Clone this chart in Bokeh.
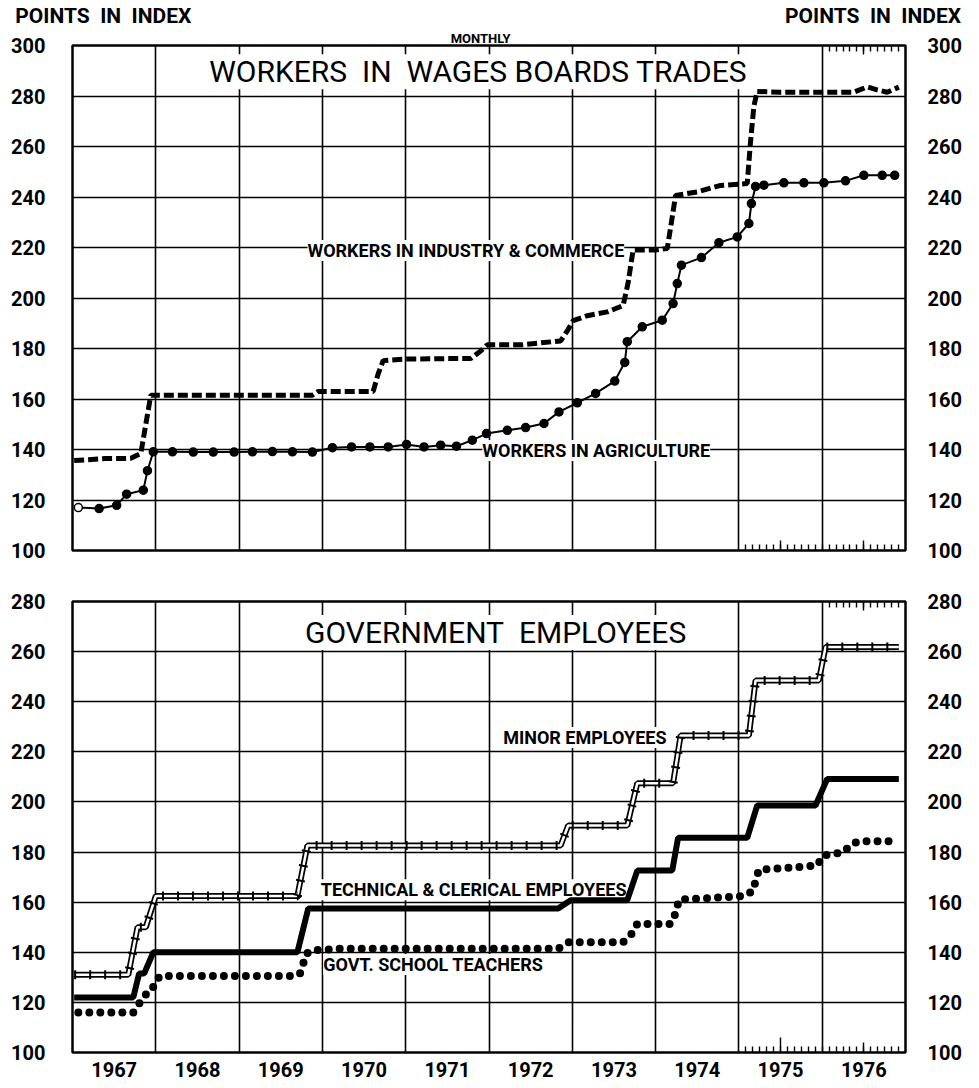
from bokeh.plotting import figure
from bokeh.layouts import column
from bokeh.models import Range1d, LinearAxis, FixedTicker, Grid, Label, CustomJSTickFormatter
from bokeh.embed import file_html
from bokeh.resources import INLINE

# ---------------- data ----------------
years = [1967, 1968, 1969, 1970, 1971, 1972, 1973, 1974, 1975, 1976]
top_yticks = [100, 120, 140, 160, 180, 200, 220, 240, 260, 280, 300]
bot_yticks = [100, 120, 140, 160, 180, 200, 220, 240, 260, 280]

# Workers in industry & commerce (dashed)
ind_t = [1967.02, 1967.4, 1967.70, 1967.82, 1967.88, 1967.94, 1968.5, 1969.0, 1969.5, 1969.88,
         1969.95, 1970.3, 1970.61, 1970.67, 1970.73, 1971.0, 1971.5, 1971.78, 1971.90, 1971.98,
         1972.4, 1972.86, 1972.94, 1973.01, 1973.18, 1973.42, 1973.61, 1973.67, 1973.73, 1974.0,
         1974.14, 1974.19, 1974.24, 1974.5, 1974.78, 1975.10, 1975.14, 1975.18, 1975.22, 1975.5,
         1976.0, 1976.38, 1976.54, 1976.65, 1976.78, 1976.92]
ind_v = [135.6, 136.4, 136.5, 138.4, 150.0, 161.5, 161.5, 161.5, 161.5, 161.5,
         163.0, 163.0, 163.0, 170.0, 175.2, 175.8, 176.0, 176.0, 179.0, 181.5,
         181.5, 183.0, 187.0, 191.0, 193.0, 194.5, 197.0, 206.0, 219.0, 219.0,
         219.6, 230.0, 240.6, 242.0, 244.6, 245.3, 262.0, 276.0, 281.8, 281.5,
         281.5, 281.5, 283.6, 282.5, 281.5, 283.5]

# Workers in agriculture (line with dots)
agri_t = [1967.07, 1967.32, 1967.53, 1967.65, 1967.85, 1967.90, 1967.97, 1968.20, 1968.45, 1968.69,
          1968.94, 1969.16, 1969.40, 1969.64, 1969.88, 1970.12, 1970.35, 1970.57, 1970.79, 1971.01,
          1971.22, 1971.42, 1971.61, 1971.80, 1971.97, 1972.22, 1972.44, 1972.66, 1972.84, 1973.06,
          1973.28, 1973.51, 1973.63, 1973.66, 1973.84, 1974.08, 1974.21, 1974.26, 1974.31, 1974.55,
          1974.76, 1974.98, 1975.12, 1975.15, 1975.20, 1975.30, 1975.54, 1975.78, 1976.02, 1976.28,
          1976.50, 1976.72, 1976.87]
agri_v = [117.0, 116.6, 117.9, 122.3, 123.9, 131.6, 139.1, 139.1, 139.0, 139.0,
          139.0, 139.1, 139.2, 139.1, 139.0, 140.7, 141.0, 141.0, 141.0, 142.0,
          141.0, 141.7, 141.3, 143.7, 146.3, 147.6, 148.7, 150.3, 154.9, 158.5,
          162.2, 167.1, 174.5, 182.7, 188.6, 191.2, 197.8, 205.7, 213.0, 216.0,
          221.9, 224.2, 229.5, 237.4, 244.2, 244.7, 245.6, 245.6, 245.6, 246.4,
          248.6, 248.6, 248.6]

# Government: minor employees
minor_t = [1967.02, 1967.67, 1967.78, 1967.88, 1968.0, 1969.70, 1969.82, 1972.86, 1972.95, 1973.66,
           1973.78, 1974.21, 1974.30, 1975.12, 1975.20, 1975.96, 1976.04, 1976.92]
minor_v = [131.0, 131.0, 150.0, 150.0, 162.5, 162.5, 182.6, 182.6, 190.6, 190.6,
           207.5, 207.5, 226.5, 226.5, 248.5, 248.5, 261.8, 261.8]

# Government: technical & clerical employees
tech_t = [1967.02, 1967.73, 1967.80, 1967.86, 1967.97, 1969.70, 1969.83, 1972.83, 1972.98, 1973.66,
          1973.78, 1974.20, 1974.27, 1975.10, 1975.22, 1975.92, 1976.06, 1976.92]
tech_v = [122.0, 122.0, 131.5, 131.5, 140.0, 140.0, 157.5, 157.5, 160.8, 160.8,
          172.6, 172.6, 185.7, 185.7, 198.6, 198.6, 209.2, 209.2]

# Government: school teachers
teach_t = [1967.07, 1967.73, 1967.80, 1967.86, 1967.95, 1967.99, 1968.05, 1969.65, 1969.73, 1969.77,
           1969.80, 1969.86, 1970.2, 1972.83, 1972.95, 1973.61, 1973.72, 1973.78, 1974.18, 1974.24,
           1974.28, 1975.05, 1975.17, 1975.20, 1975.24, 1975.94, 1976.01, 1976.25, 1976.36, 1976.45,
           1976.88]
teach_v = [116.0, 116.0, 119.5, 122.7, 124.5, 128.0, 130.5, 130.5, 131.4, 135.4,
           139.1, 140.7, 141.4, 141.4, 144.0, 144.0, 147.6, 151.3, 151.3, 155.6,
           161.0, 162.4, 164.4, 168.6, 172.9, 174.6, 178.6, 179.9, 183.3, 184.3,
           184.3]

FONT = "Roboto"
NB = "\u00a0"


def make_fig(ymax, yticks, frame_h, border_top, border_bottom):
    p = figure(frame_width=833, frame_height=frame_h,
               x_range=Range1d(1967, 1977), y_range=Range1d(100, ymax),
               x_axis_type=None, y_axis_type=None,
               output_backend="svg", toolbar_location=None,
               min_border_left=72, min_border_right=72,
               min_border_top=border_top, min_border_bottom=border_bottom)
    p.outline_line_color = "black"
    p.outline_line_width = 2.5
    p.background_fill_color = "white"
    p.border_fill_color = "white"
    for side, standoff in (("left", 27), ("right", 22)):
        ax = LinearAxis(ticker=FixedTicker(ticks=yticks),
                        major_tick_in=0, major_tick_out=0, minor_tick_in=0, minor_tick_out=0,
                        axis_line_color=None,
                        major_label_text_font=FONT, major_label_text_font_style="bold",
                        major_label_text_font_size="20px", major_label_text_color="black",
                        major_label_standoff=standoff)
        p.add_layout(ax, side)
    p.add_layout(Grid(dimension=0, ticker=FixedTicker(ticks=years[1:]),
                      grid_line_color="black", grid_line_width=1.6))
    p.add_layout(Grid(dimension=1, ticker=FixedTicker(ticks=yticks[1:-1]),
                      grid_line_color="black", grid_line_width=1.6))
    return p


def month_ticks(p, ticks, lo, hi):
    # short monthly tick marks drawn inside the frame edge
    p.add_layout(Grid(dimension=0, ticker=FixedTicker(ticks=ticks), cross_bounds=(lo, hi),
                      grid_line_color="black", grid_line_width=1.4))


def text_axis(p, ticks, text, size, standoff, side="above"):
    ax = LinearAxis(ticker=FixedTicker(ticks=ticks),
                    formatter=CustomJSTickFormatter(code="return %r" % text),
                    major_tick_in=0, major_tick_out=0, minor_tick_in=0, minor_tick_out=0,
                    axis_line_color=None,
                    major_label_text_font=FONT, major_label_text_font_style="bold",
                    major_label_text_font_size=size, major_label_text_color="black",
                    major_label_standoff=standoff)
    p.add_layout(ax, side)


def add_label(p, x, y, text, size, style="bold", align="left"):
    p.add_layout(Label(x=x, y=y, text=text, text_font=FONT, text_font_size=size,
                       text_font_style=style, text_align=align, text_baseline="middle",
                       text_color="black", background_fill_color="white", level="underlay"))


months_7576 = [1975 + i / 12 for i in range(1, 24)]
months_76 = [1976 + i / 12 for i in range(1, 12)]
mid_years = [y + 0.5 for y in years]

# ---------------- top panel ----------------
p1 = make_fig(300, top_yticks, 505, 42, 23)
text_axis(p1, [1971.90], "MONTHLY", "13px", 0)
text_axis(p1, [1967.37, 1976.61], "POINTS" + NB + " IN" + NB + " INDEX", "21px", 0)
month_ticks(p1, months_76, 297.6, 300)
month_ticks(p1, [1976.5], 296.6, 300)
month_ticks(p1, months_7576, 100, 102.4)
month_ticks(p1, [1975.5, 1976.5], 100, 103.8)

p1.line(ind_t, ind_v, line_color="black", line_width=5, line_dash="10 4")
p1.line(agri_t, agri_v, line_color="black", line_width=2)
agri_fill = ["white"] + ["black"] * (len(agri_t) - 1)
p1.scatter(agri_t, agri_v, marker="circle", size=8, fill_color=agri_fill,
           line_color="black", line_width=1.5)

add_label(p1, 1971.87, 289.6, "WORKERS" + NB + " IN" + NB + " WAGES BOARDS TRADES", "30px",
          style="normal", align="center")
add_label(p1, 1969.82, 218.8, "WORKERS IN INDUSTRY & COMMERCE", "18px")
add_label(p1, 1971.92, 139.6, "WORKERS IN AGRICULTURE", "18px")

# ---------------- bottom panel ----------------
p2 = make_fig(280, bot_yticks, 451, 28, 34)
month_ticks(p2, months_76, 277.6, 280)
month_ticks(p2, [1976.5], 276.6, 280)
month_ticks(p2, months_7576, 100, 102.4)
month_ticks(p2, [1975.5], 100, 106.0)
month_ticks(p2, [1976.5], 100, 104.0)

year_axis = LinearAxis(ticker=FixedTicker(ticks=mid_years),
                       formatter=CustomJSTickFormatter(code="return Math.floor(tick).toString()"),
                       major_tick_in=0, major_tick_out=0, minor_tick_in=0, minor_tick_out=0,
                       axis_line_color=None,
                       major_label_text_font=FONT, major_label_text_font_style="bold",
                       major_label_text_font_size="20px", major_label_text_color="black",
                       major_label_standoff=9)
p2.add_layout(year_axis, "below")

# minor employees: double line with cross ticks
p2.line(minor_t, minor_v, line_color="black", line_width=6)
p2.line(minor_t, minor_v, line_color="white", line_width=2.5)
p2.line(minor_t, minor_v, line_color="black", line_width=9, line_dash="2 13")
# technical & clerical: heavy solid
p2.line(tech_t, tech_v, line_color="black", line_width=6)
# teachers: dotted
p2.line(teach_t, teach_v, line_color="black", line_width=8, line_dash="0 11", line_cap="round")

add_label(p2, 1972.08, 267.6, "GOVERNMENT" + NB + " EMPLOYEES", "30px", style="normal", align="center")
add_label(p2, 1972.17, 225.7, "MINOR EMPLOYEES", "18px")
add_label(p2, 1969.98, 165.0, "TECHNICAL & CLERICAL EMPLOYEES", "18px")
add_label(p2, 1970.01, 135.1, "GOVT. SCHOOL TEACHERS", "18px")

layout = column(p1, p2, spacing=0)
open("out.html", "w").write(file_html(layout, INLINE))
